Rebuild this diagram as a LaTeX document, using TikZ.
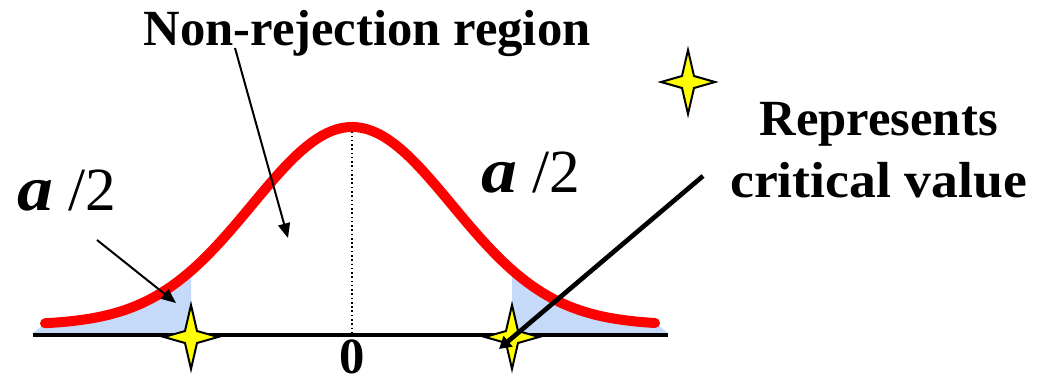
\documentclass[tikz,border=0pt]{standalone}
\usepackage{fontspec}
\usepackage{graphicx}
\setmainfont{Liberation Serif}
\usetikzlibrary{arrows.meta}
\definecolor{tailblue}{HTML}{C4DAF8}
\definecolor{starfill}{HTML}{FFFF00}
\tikzset{
  curve/.style={red, line width=7.5pt, line cap=round, line join=round},
  axisline/.style={black, line width=3.5pt},
  pointer/.style={black, line width=1.5pt, -{Triangle[length=11pt,width=9pt]}},
  bigpointer/.style={black, line width=3.5pt, -{Triangle[length=9pt,width=10pt]}},
  lbl/.style={font=\fontsize{38}{46.5}\selectfont\bfseries, inner sep=0pt, align=center},
  alab/.style={inner sep=0pt, anchor=base west},
  pics/spark/.style={code={
    \draw[fill=starfill, line width=1.5pt, line join=miter]
      (0,-32) -- (6,-6) -- (27,0) -- (6,6) -- (0,32) -- (-6,6) -- (-27,0) -- (-6,-6) -- cycle;}}
}
\begin{document}
\begin{tikzpicture}[x=0.75pt,y=-0.75pt]
\useasboundingbox (0,0) rectangle (1041,382);
% shaded tails
\fill[tailblue] (33,333) -- plot[domain=45:191,samples=60] (\x,{325-198*exp(-0.5*((\x-352)/100)^2)}) -- (191,333) -- cycle;
\fill[tailblue] (512,333) -- plot[domain=512:655,samples=60] (\x,{325-198*exp(-0.5*((\x-352)/100)^2)}) -- (668,333) -- cycle;
% axis and centre line
\coordinate (axL) at (33,335);
\coordinate (axR) at (668,335);
\draw[axisline] (axL) -- (axR);
\coordinate (peak) at (352,127);
\coordinate (mid) at (352,333);
\draw[black, line width=1.2pt, dotted] (peak) -- (mid);
% curve
\draw[curve] plot[domain=45:655,samples=120] (\x,{325-198*exp(-0.5*((\x-352)/100)^2)});
% stars
\coordinate (cvL) at (191,337);
\coordinate (cvR) at (512,337);
\coordinate (legstar) at (688,82);
\pic at (cvL) {spark};
\pic at (cvR) {spark};
\pic at (legstar) {spark};
% labels
\node[lbl, anchor=base] (nonrej) at (367,45) {Non-rejection region};
\node[lbl, anchor=base] (zero) at (352,373) {\fontsize{38}{46}\selectfont 0};
\node[lbl, anchor=base east] (rep1) at (998,135) {Represents};
\node[lbl, anchor=base west] (rep2) at (730,197) {\scalebox{1.06}[1]{critical value}};
\node[alab] (aL) at (17,210) {\fontsize{48}{50}\selectfont\bfseries\itshape\scalebox{1.12}[1]{a}\fontsize{46}{50}\selectfont\mdseries\upshape\ /2};
\node[alab] (aR) at (481,192) {\fontsize{48}{50}\selectfont\bfseries\itshape\scalebox{1.12}[1]{a}\fontsize{46}{50}\selectfont\mdseries\upshape\ /2};
% pointers
\coordinate (nrStart) at (235,48);
\coordinate (nrTip) at (288,238);
\draw[pointer] (nrStart) -- (nrTip);
\coordinate (aLStart) at (97,240);
\coordinate (aLTip) at (176,303);
\draw[pointer] (aLStart) -- (aLTip);
\coordinate (cvStart) at (703,176);
\coordinate (cvTip) at (499,349);
\draw[bigpointer] (cvStart) -- (cvTip);
\end{tikzpicture}
\end{document}
